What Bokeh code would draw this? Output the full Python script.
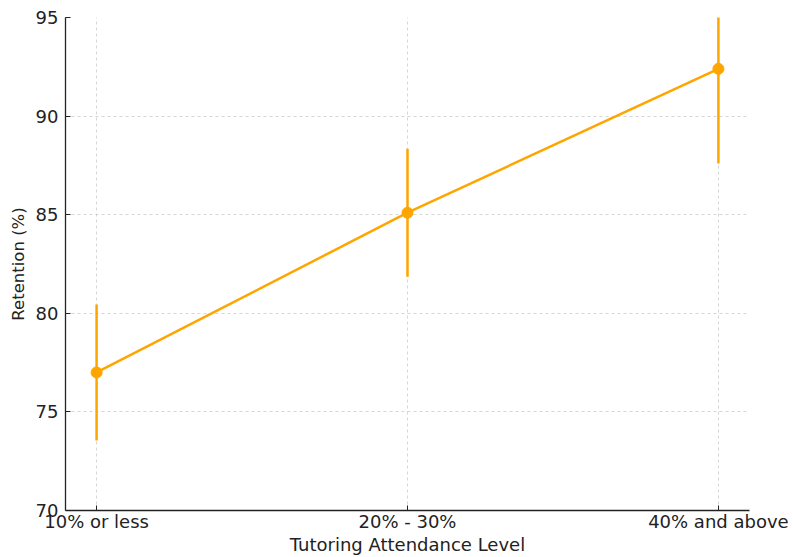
import numpy as np
from bokeh.plotting import figure
from bokeh.models import Range1d, FixedTicker
from bokeh.embed import file_html
from bokeh.resources import INLINE

categories = ["10% or less", "20% - 30%", "40% and above"]
retention = [77.0, 85.1, 92.4]
error = [3.45, 3.25, 4.8]
y_ticks = [70, 75, 80, 85, 90, 95]

x = np.arange(len(categories))
ret = np.array(retention)
err = np.array(error)

COLOR = "#FFA500"
FONT = "DejaVu Sans"
TICK_FS = "18px"

p = figure(width=793, height=557, output_backend="svg", toolbar_location=None,
           x_range=Range1d(-0.1, 2.1), y_range=Range1d(70, 95),
           min_border_left=65, min_border_right=44, min_border_top=17, min_border_bottom=47)
p.outline_line_color = None
p.background_fill_color = "white"

p.segment(x0=x, y0=ret - err, x1=x, y1=ret + err, line_color=COLOR, line_width=2.5)
p.line(x, ret, line_color=COLOR, line_width=2.5)
p.scatter(x, ret, size=11, fill_color=COLOR, line_color=COLOR)

p.xaxis.ticker = FixedTicker(ticks=list(x))
p.xaxis.major_label_overrides = {int(i): c for i, c in zip(x, categories)}
p.yaxis.ticker = FixedTicker(ticks=y_ticks)

p.xaxis.axis_label = "Tutoring Attendance Level"
p.yaxis.axis_label = "Retention (%)"

for ax in (p.xaxis, p.yaxis):
    ax.axis_line_color = "#222222"
    ax.axis_line_width = 1.3
    ax.major_tick_in = 5
    ax.major_tick_out = 0
    ax.minor_tick_in = 0
    ax.minor_tick_out = 0
    ax.major_tick_line_color = "#222222"
    ax.major_label_text_font = FONT
    ax.major_label_text_font_size = TICK_FS
    ax.major_label_text_color = "#222222"
    ax.axis_label_text_font = FONT
    ax.axis_label_text_font_style = "normal"
    ax.axis_label_text_color = "#222222"

p.xaxis.axis_label_text_font_size = "18px"
p.yaxis.axis_label_text_font_size = "16.5px"

p.xaxis.major_label_standoff = 0
p.xaxis.axis_label_standoff = -1
p.yaxis.major_label_standoff = 7
p.yaxis.axis_label_standoff = 5

for g in (p.xgrid, p.ygrid):
    g.grid_line_color = "#cccccc"
    g.grid_line_alpha = 0.8
    g.grid_line_dash = "3 3"
    g.grid_line_width = 1

open("out.html", "w").write(file_html(p, INLINE))
